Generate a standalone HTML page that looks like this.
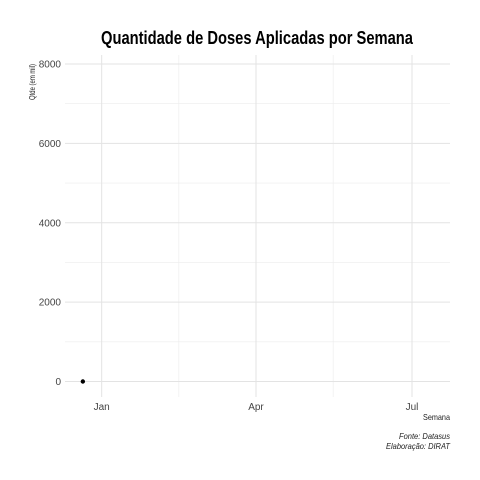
<!DOCTYPE html>
<html><head><meta charset="utf-8"><style>
body{margin:0;background:#fff}
svg{display:block;font-family:"Liberation Sans",Arial,sans-serif}
</style></head><body>
<svg id="chart" width="480" height="480" viewBox="0 0 480 480">
<rect width="480" height="480" fill="#fff"/>
<text x="257" y="44" text-anchor="middle" font-size="18" font-weight="bold" textLength="312" lengthAdjust="spacingAndGlyphs" fill="#000">Quantidade de Doses Aplicadas por Semana</text>
<g id="grid"></g>
<g id="yticks"></g>
<g id="xticks"></g>
<g id="marks"></g>
<text transform="translate(35,82) rotate(-90)" text-anchor="middle" font-size="8" fill="#222" textLength="36" lengthAdjust="spacingAndGlyphs">Qtde (em mil)</text>
<text x="450" y="420" text-anchor="end" font-size="8.5" fill="#222" textLength="27" lengthAdjust="spacingAndGlyphs">Semana</text>
<text x="450" y="439" text-anchor="end" font-size="8.5" font-style="italic" fill="#222" textLength="51" lengthAdjust="spacingAndGlyphs">Fonte: Datasus</text>
<text x="450" y="449" text-anchor="end" font-size="8.5" font-style="italic" fill="#222" textLength="64" lengthAdjust="spacingAndGlyphs">Elaboração: DIRAT</text>
</svg>
<script>
const yTickValues=[0,2000,4000,6000,8000];
const yMinorValues=[1000,3000,5000,7000];
const xTickLabels=["Jan","Apr","Jul"];
const xTickDays=[0,90,181];
const xMinorDays=[45,135];
const pointDays=[-11];
const pointValues=[0];

const NS="http://www.w3.org/2000/svg";
const L=65,R=450,T=55,B=397;
const x=d=>101.7+d*(412-101.7)/181;
const y=v=>381.5-v*(381.5-64)/8000;
function mk(tag,attrs,parent){const e=document.createElementNS(NS,tag);for(const k in attrs)e.setAttribute(k,attrs[k]);parent.appendChild(e);return e;}
const grid=document.getElementById('grid'),yt=document.getElementById('yticks'),xt=document.getElementById('xticks'),marks=document.getElementById('marks');
yMinorValues.forEach(v=>{const l=mk('line',{x1:L,x2:R,y1:y(v),y2:y(v),stroke:'#ececec','stroke-width':0.6},grid);

});
xMinorDays.forEach(d=>{const l=mk('line',{x1:x(d),x2:x(d),y1:T,y2:B,stroke:'#ececec','stroke-width':0.6},grid);

});
yTickValues.forEach(v=>{const l=mk('line',{x1:L,x2:R,y1:y(v),y2:y(v),stroke:'#e3e3e3','stroke-width':1},grid);


const t=mk('text',{x:61,y:y(v)+3.5,'text-anchor':'end','font-size':10,fill:'#444'},yt);t.textContent=v;

});
xTickDays.forEach((d,i)=>{const l=mk('line',{x1:x(d),x2:x(d),y1:T,y2:B,stroke:'#e3e3e3','stroke-width':1},grid);


const t=mk('text',{x:x(d),y:410,'text-anchor':'middle','font-size':10,fill:'#444'},xt);t.textContent=xTickLabels[i];

});
pointDays.forEach((d,i)=>{const c=mk('circle',{cx:x(d),cy:y(pointValues[i]),r:2.2,fill:'#000'},marks);

});
</script>
</body></html>
